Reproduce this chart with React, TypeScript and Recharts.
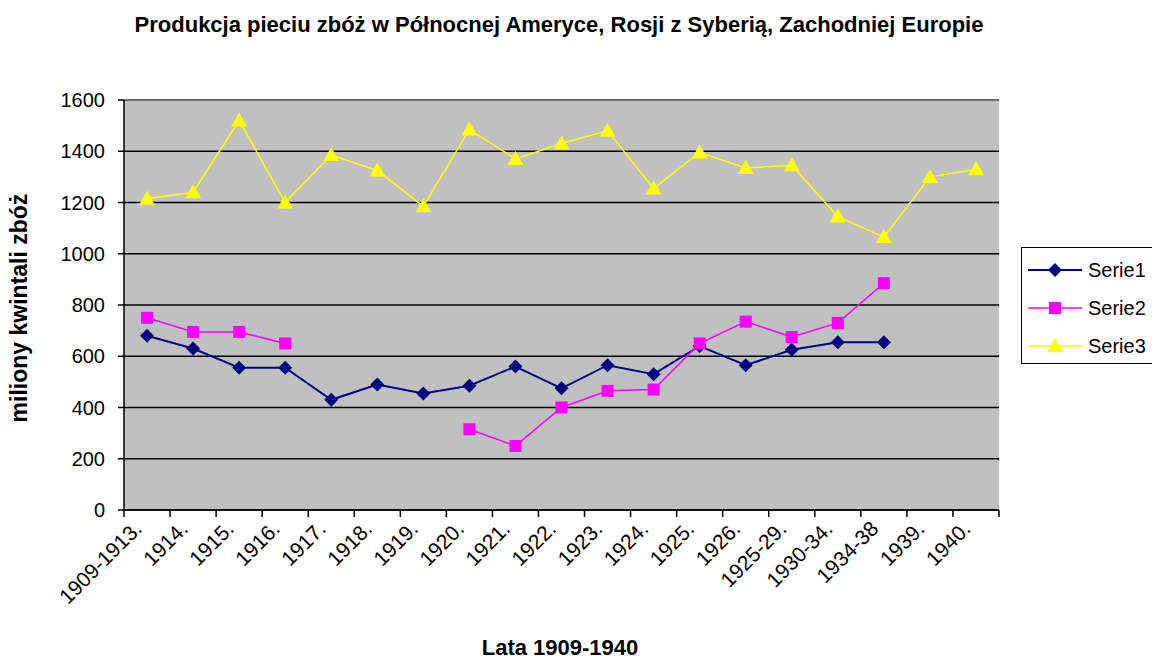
import { ComposedChart, Line, XAxis, YAxis, CartesianGrid, ReferenceLine } from "recharts"

const categories = [
  "1909-1913.", "1914.", "1915.", "1916.", "1917.", "1918.", "1919.", "1920.", "1921.", "1922.",
  "1923.", "1924.", "1925.", "1926.", "1925-29.", "1930-34.", "1934-38", "1939.", "1940.",
]
const serie1 = [680, 630, 555, 555, 430, 490, 455, 485, 560, 475, 565, 530, 640, 565, 625, 655, 655, null, null]
const serie2 = [750, 695, 695, 650, null, null, null, 315, 250, 400, 465, 470, 650, 735, 675, 730, 885, null, null]
const serie3 = [1215, 1240, 1520, 1200, 1385, 1325, 1185, 1485, 1370, 1430, 1480, 1255, 1395, 1335, 1345, 1145, 1065, 1300, 1330]
const yTicks = [0, 200, 400, 600, 800, 1000, 1200, 1400, 1600]

const seriesMeta = [
  { key: "serie1", name: "Serie1", color: "#000080", shape: "diamond", width: 2 },
  { key: "serie2", name: "Serie2", color: "#ff00ff", shape: "square", width: 1.5 },
  { key: "serie3", name: "Serie3", color: "#ffff00", shape: "triangle", width: 1.5 },
]

const data = categories.map((label, i) => ({
  label,
  serie1: serie1[i],
  serie2: serie2[i],
  serie3: serie3[i],
}))

const FONT = "'Liberation Sans', Arial, sans-serif"

function Marker({ shape, color, cx, cy }: { shape: string; color: string; cx: number; cy: number }) {
  if (shape === "diamond") {
    const r = 7
    return <polygon points={`${cx},${cy - r} ${cx + r},${cy} ${cx},${cy + r} ${cx - r},${cy}`} fill={color} />
  }
  if (shape === "square") {
    const s = 6
    return <rect x={cx - s} y={cy - s} width={s * 2} height={s * 2} fill={color} />
  }
  return <polygon points={`${cx},${cy - 8} ${cx + 8},${cy + 6} ${cx - 8},${cy + 6}`} fill={color} />
}

const makeDot = (shape: string, color: string) => (p: any) => {
  if (p.value == null || p.cx == null || p.cy == null) return <g key={p.index} />
  return <Marker key={p.index} shape={shape} color={color} cx={p.cx} cy={p.cy} />
}

function XTick(props: any) {
  const { x, y, payload, index, width } = props
  const half = width / categories.length / 2
  const tickLen = 7
  const ax = x - 4
  const ay = y + 13
  return (
    <g>
      <line x1={x - half} y1={y - tickLen} x2={x - half} y2={y} stroke="#000" strokeWidth={1.5} />
      {index === categories.length - 1 && (
        <line x1={x + half} y1={y - tickLen} x2={x + half} y2={y} stroke="#000" strokeWidth={1.5} />
      )}
      <text
        x={ax}
        y={ay}
        transform={`rotate(-45, ${ax}, ${ay})`}
        textAnchor="end"
        fontSize={21}
        fontFamily={FONT}
        fill="#000"
      >
        {payload.value}
      </text>
    </g>
  )
}

function LegendBox() {
  return (
    <div
      style={{
        position: "absolute",
        left: 1021,
        top: 247,
        width: 150,
        height: 117,
        border: "1.5px solid #000",
        background: "#fff",
        boxSizing: "border-box",
      }}
    >
      <svg width={150} height={117} style={{ position: "absolute", left: 0, top: 0 }}>
        {seriesMeta.map((s, i) => {
          const cy = 22 + i * 38
          return (
            <g key={s.key}>
              <line x1={6} y1={cy} x2={60} y2={cy} stroke={s.color} strokeWidth={s.width} />
              <Marker shape={s.shape} color={s.color} cx={33} cy={cy} />
              <text x={66} y={cy + 7} fontSize={20} fontFamily={FONT} fill="#000">
                {s.name}
              </text>
            </g>
          )
        })}
      </svg>
    </div>
  )
}

export default function App() {
  return (
    <div style={{ position: "absolute", left: 0, top: 0, width: 1152, height: 661, overflow: "hidden", background: "#fff" }}>
      <ComposedChart width={1152} height={661} data={data} margin={{ top: 100, right: 153, bottom: 0, left: 0 }}>
        <CartesianGrid horizontal vertical={false} fill="#c0c0c0" fillOpacity={1} stroke="#000" strokeWidth={1.5} />
        <XAxis
          dataKey="label"
          type="category"
          scale="band"
          height={151}
          interval={0}
          tickSize={7}
          tickMargin={0}
          tickLine={false}
          axisLine={{ stroke: "#000", strokeWidth: 1.5 }}
          tick={<XTick />}
        />
        <YAxis
          domain={[0, 1600]}
          ticks={yTicks}
          width={124}
          tickSize={6}
          tickMargin={13}
          tickLine={{ stroke: "#000", strokeWidth: 1.5 }}
          axisLine={{ stroke: "#000", strokeWidth: 1.5 }}
          tick={{ fill: "#000", fontSize: 20, fontFamily: FONT }}
        />
        <YAxis
          yAxisId="frame"
          orientation="right"
          domain={[0, 1600]}
          width={0}
          tick={false}
          tickLine={false}
          axisLine={{ stroke: "#808080", strokeWidth: 1.5 }}
        />
        <ReferenceLine y={1600} stroke="#808080" strokeWidth={1.5} />
        {seriesMeta.map((s) => (
          <Line
            key={s.key}
            dataKey={s.key}
            name={s.name}
            type="linear"
            stroke={s.color}
            strokeWidth={s.width}
            dot={makeDot(s.shape, s.color)}
            activeDot={false}
            isAnimationActive={false}
          />
        ))}
      </ComposedChart>
      <svg width={1152} height={661} style={{ position: "absolute", left: 0, top: 0, pointerEvents: "none" }}>
        <text x={559} y={32} textAnchor="middle" fontSize={22} fontWeight="bold" fontFamily={FONT} fill="#000">
          Produkcja pieciu zbóż w Północnej Ameryce, Rosji z Syberią, Zachodniej Europie
        </text>
        <text x={560} y={655} textAnchor="middle" fontSize={22} fontWeight="bold" fontFamily={FONT} fill="#000">
          Lata 1909-1940
        </text>
        <text
          x={27}
          y={308}
          transform="rotate(-90, 27, 308)"
          textAnchor="middle"
          fontSize={23}
          fontWeight="bold"
          fontFamily={FONT}
          fill="#000"
        >
          miliony kwintali zbóż
        </text>
      </svg>
      <LegendBox />
    </div>
  )
}
